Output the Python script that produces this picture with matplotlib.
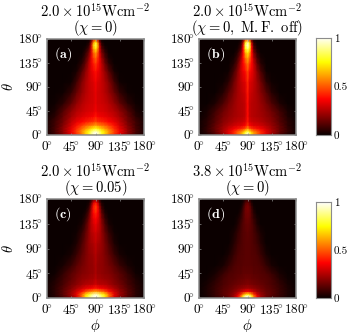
import numpy as np
import matplotlib
matplotlib.use("Agg")
import matplotlib.pyplot as plt

plt.rcParams['font.family'] = ['cmr10', 'DejaVu Serif']
plt.rcParams['axes.formatter.use_mathtext'] = True
plt.rcParams['mathtext.fontset'] = 'cm'

W, H = 348, 332
panel_labels = [r'$\mathbf{(a)}$', r'$\mathbf{(b)}$', r'$\mathbf{(c)}$', r'$\mathbf{(d)}$']
titles = [r'$2.0\times10^{15}\mathrm{Wcm}^{-2}$' + '\n' + r'$(\chi=0)$',
          r'$2.0\times10^{15}\mathrm{Wcm}^{-2}$' + '\n' + r'$(\chi=0,\ \mathrm{M.F.\ off})$',
          r'$2.0\times10^{15}\mathrm{Wcm}^{-2}$' + '\n' + r'$(\chi=0.05)$',
          r'$3.8\times10^{15}\mathrm{Wcm}^{-2}$' + '\n' + r'$(\chi=0)$']
tick_values = [0, 45, 90, 135, 180]
tick_labels = [r'$0\!^{\circ}$', r'$45\!^{\circ}$', r'$90\!^{\circ}$', r'$135\!^{\circ}$', r'$180\!^{\circ}$']
cbar_ticks = [0, 0.5, 1]
cbar_labels = ['0', '0.5', '1']

# offset of phi from 90 degrees, and theta, where intensities were read
phi_off = [0, 4, 8, 12, 18, 25, 35, 45, 60, 75, 90]
theta = [0, 3, 7, 12, 18, 25, 35, 45, 60, 80, 100, 120, 135, 145, 155, 162, 168, 174, 180]

I_a = [
 [0.80,0.78,0.72,0.66,0.58,0.48,0.38,0.28,0.16,0.06,0.01],
 [1.00,0.96,0.88,0.78,0.68,0.56,0.44,0.33,0.19,0.08,0.02],
 [0.94,0.90,0.84,0.76,0.68,0.58,0.46,0.35,0.20,0.09,0.02],
 [0.78,0.74,0.70,0.66,0.60,0.53,0.43,0.33,0.20,0.09,0.02],
 [0.62,0.58,0.56,0.54,0.51,0.46,0.39,0.30,0.18,0.08,0.02],
 [0.48,0.44,0.43,0.42,0.40,0.37,0.33,0.27,0.16,0.08,0.02],
 [0.40,0.36,0.35,0.34,0.33,0.31,0.28,0.23,0.14,0.05,0.01],
 [0.35,0.32,0.31,0.31,0.30,0.28,0.25,0.20,0.11,0.03,0.00],
 [0.33,0.30,0.30,0.29,0.28,0.25,0.20,0.13,0.05,0.01,0.00],
 [0.33,0.30,0.29,0.28,0.25,0.21,0.14,0.06,0.01,0.00,0.00],
 [0.35,0.31,0.30,0.28,0.24,0.18,0.08,0.01,0.00,0.00,0.00],
 [0.39,0.35,0.32,0.27,0.20,0.11,0.02,0.00,0.00,0.00,0.00],
 [0.46,0.40,0.33,0.25,0.14,0.05,0.00,0.00,0.00,0.00,0.00],
 [0.52,0.44,0.33,0.21,0.10,0.02,0.00,0.00,0.00,0.00,0.00],
 [0.60,0.50,0.30,0.16,0.06,0.00,0.00,0.00,0.00,0.00,0.00],
 [0.72,0.58,0.29,0.11,0.03,0.00,0.00,0.00,0.00,0.00,0.00],
 [0.82,0.66,0.27,0.07,0.01,0.00,0.00,0.00,0.00,0.00,0.00],
 [0.76,0.56,0.18,0.03,0.00,0.00,0.00,0.00,0.00,0.00,0.00],
 [0.45,0.30,0.07,0.01,0.00,0.00,0.00,0.00,0.00,0.00,0.00]]

I_b = [
 [0.72,0.66,0.56,0.48,0.41,0.33,0.25,0.18,0.09,0.03,0.00],
 [0.95,0.84,0.70,0.60,0.52,0.42,0.31,0.22,0.11,0.04,0.01],
 [0.82,0.72,0.62,0.56,0.50,0.42,0.32,0.24,0.13,0.06,0.01],
 [0.60,0.50,0.45,0.42,0.39,0.35,0.29,0.23,0.14,0.06,0.01],
 [0.46,0.37,0.34,0.32,0.31,0.29,0.25,0.21,0.13,0.05,0.01],
 [0.40,0.31,0.29,0.28,0.27,0.25,0.22,0.19,0.11,0.05,0.01],
 [0.38,0.28,0.26,0.25,0.24,0.23,0.20,0.17,0.10,0.03,0.00],
 [0.38,0.28,0.26,0.25,0.24,0.22,0.19,0.15,0.08,0.02,0.00],
 [0.38,0.28,0.26,0.25,0.24,0.21,0.16,0.10,0.03,0.00,0.00],
 [0.40,0.30,0.28,0.26,0.23,0.18,0.11,0.04,0.00,0.00,0.00],
 [0.42,0.32,0.30,0.27,0.22,0.15,0.05,0.01,0.00,0.00,0.00],
 [0.47,0.38,0.34,0.29,0.19,0.09,0.01,0.00,0.00,0.00,0.00],
 [0.55,0.45,0.37,0.27,0.13,0.04,0.00,0.00,0.00,0.00,0.00],
 [0.62,0.52,0.38,0.23,0.09,0.02,0.00,0.00,0.00,0.00,0.00],
 [0.72,0.62,0.37,0.17,0.05,0.00,0.00,0.00,0.00,0.00,0.00],
 [0.86,0.74,0.36,0.11,0.02,0.00,0.00,0.00,0.00,0.00,0.00],
 [0.96,0.82,0.34,0.08,0.01,0.00,0.00,0.00,0.00,0.00,0.00],
 [0.90,0.72,0.24,0.04,0.00,0.00,0.00,0.00,0.00,0.00,0.00],
 [0.55,0.38,0.09,0.01,0.00,0.00,0.00,0.00,0.00,0.00,0.00]]

I_c = [
 [0.80,0.78,0.72,0.66,0.54,0.38,0.24,0.16,0.08,0.02,0.00],
 [1.00,0.97,0.92,0.84,0.72,0.52,0.31,0.20,0.10,0.04,0.01],
 [0.94,0.90,0.84,0.78,0.68,0.52,0.33,0.22,0.12,0.05,0.01],
 [0.62,0.60,0.57,0.54,0.48,0.39,0.29,0.21,0.12,0.05,0.01],
 [0.40,0.38,0.36,0.35,0.33,0.29,0.24,0.18,0.11,0.05,0.01],
 [0.30,0.27,0.26,0.26,0.25,0.23,0.19,0.16,0.09,0.04,0.01],
 [0.26,0.23,0.23,0.22,0.21,0.20,0.17,0.13,0.08,0.03,0.00],
 [0.24,0.21,0.21,0.20,0.19,0.18,0.15,0.12,0.06,0.01,0.00],
 [0.24,0.21,0.20,0.20,0.18,0.16,0.12,0.07,0.02,0.00,0.00],
 [0.25,0.22,0.21,0.20,0.17,0.13,0.07,0.02,0.00,0.00,0.00],
 [0.27,0.24,0.23,0.21,0.16,0.10,0.03,0.00,0.00,0.00,0.00],
 [0.30,0.27,0.25,0.20,0.13,0.06,0.01,0.00,0.00,0.00,0.00],
 [0.34,0.30,0.26,0.19,0.09,0.02,0.00,0.00,0.00,0.00,0.00],
 [0.37,0.33,0.26,0.16,0.06,0.01,0.00,0.00,0.00,0.00,0.00],
 [0.42,0.37,0.25,0.12,0.03,0.00,0.00,0.00,0.00,0.00,0.00],
 [0.46,0.39,0.23,0.08,0.01,0.00,0.00,0.00,0.00,0.00,0.00],
 [0.46,0.38,0.19,0.05,0.00,0.00,0.00,0.00,0.00,0.00,0.00],
 [0.38,0.29,0.11,0.02,0.00,0.00,0.00,0.00,0.00,0.00,0.00],
 [0.18,0.13,0.04,0.00,0.00,0.00,0.00,0.00,0.00,0.00,0.00]]

I_d = [
 [0.74,0.70,0.60,0.46,0.30,0.20,0.13,0.09,0.05,0.01,0.00],
 [1.00,0.94,0.78,0.56,0.35,0.22,0.14,0.10,0.06,0.02,0.00],
 [0.74,0.68,0.58,0.44,0.30,0.21,0.15,0.12,0.07,0.03,0.00],
 [0.36,0.34,0.31,0.27,0.22,0.18,0.14,0.12,0.07,0.03,0.00],
 [0.23,0.22,0.21,0.20,0.18,0.16,0.13,0.11,0.07,0.03,0.00],
 [0.18,0.17,0.17,0.16,0.15,0.14,0.12,0.10,0.06,0.02,0.00],
 [0.15,0.15,0.14,0.14,0.13,0.12,0.11,0.09,0.04,0.01,0.00],
 [0.13,0.13,0.13,0.12,0.12,0.11,0.10,0.07,0.02,0.00,0.00],
 [0.12,0.12,0.12,0.11,0.11,0.10,0.06,0.02,0.00,0.00,0.00],
 [0.12,0.12,0.11,0.11,0.10,0.07,0.02,0.00,0.00,0.00,0.00],
 [0.12,0.12,0.11,0.10,0.08,0.04,0.00,0.00,0.00,0.00,0.00],
 [0.13,0.12,0.11,0.09,0.06,0.02,0.00,0.00,0.00,0.00,0.00],
 [0.14,0.13,0.11,0.08,0.03,0.00,0.00,0.00,0.00,0.00,0.00],
 [0.15,0.14,0.10,0.06,0.02,0.00,0.00,0.00,0.00,0.00,0.00],
 [0.16,0.15,0.09,0.04,0.00,0.00,0.00,0.00,0.00,0.00,0.00],
 [0.17,0.15,0.08,0.02,0.00,0.00,0.00,0.00,0.00,0.00,0.00],
 [0.17,0.14,0.06,0.01,0.00,0.00,0.00,0.00,0.00,0.00,0.00],
 [0.14,0.10,0.03,0.00,0.00,0.00,0.00,0.00,0.00,0.00,0.00],
 [0.06,0.04,0.01,0.00,0.00,0.00,0.00,0.00,0.00,0.00,0.00]]

panels = [I_a, I_b, I_c, I_d]

fig = plt.figure(figsize=(W/100, H/100), dpi=100)

def box(x0, y0, x1, y1):
    return [x0/W, 1-y1/H, (x1-x0)/W, (y1-y0)/H]

rects = [(47, 39, 144, 135), (199, 39, 296, 135), (47, 199, 144, 298), (199, 199, 296, 298)]
grey = '#8c8c8c'
off = np.array(phi_off, float)
phi_full = np.concatenate([90 - off[::-1], 90 + off[1:]])

for i, (r, data) in enumerate(zip(rects, panels)):
    ax = fig.add_axes(box(*r))
    d = np.array(data)
    z = np.hstack([d[:, ::-1], d[:, 1:]])
    ax.pcolormesh(phi_full, theta, z, cmap='hot', vmin=0, vmax=1, shading='gouraud', rasterized=True)
    ax.set_xlim(0, 180); ax.set_ylim(0, 180)
    ax.set_xticks(tick_values); ax.set_yticks(tick_values)
    ax.set_xticklabels(tick_labels, fontsize=9.5); ax.set_yticklabels(tick_labels, fontsize=9.5)
    ax.tick_params(axis='x', length=1.5, width=0.5, color=grey, pad=3.5, top=True, direction='in')
    ax.tick_params(axis='y', length=1.5, width=0.5, color=grey, pad=3, right=True, direction='in')
    for s in ax.spines.values():
        s.set_color(grey); s.set_linewidth(1.1)
    ax.text(0.07, 0.94, panel_labels[i], transform=ax.transAxes, color='white',
            fontsize=10, va='top', ha='left')
    ax.set_title(titles[i], fontsize=10.5, pad=5, linespacing=0.9)
    if i % 2 == 0:
        ax.set_ylabel(r'$\theta$', fontsize=10.5)
        ax.yaxis.set_label_coords(-0.32, 0.5)
    if i >= 2:
        ax.set_xlabel(r'$\phi$', fontsize=10.5)
        ax.xaxis.set_label_coords(0.5, -0.19)

grad = np.linspace(0, 1, 256)[:, None]
for r in [(316, 38, 331, 135), (316, 202, 331, 298)]:
    cax = fig.add_axes(box(*r))
    cax.imshow(grad, origin='lower', aspect='auto', cmap='hot', extent=[0, 1, 0, 1], vmin=0, vmax=1)
    cax.set_xticks([])
    cax.yaxis.tick_right()
    cax.set_yticks(cbar_ticks); cax.set_yticklabels(cbar_labels, fontsize=8)
    cax.tick_params(length=0, pad=2)
    for s in cax.spines.values():
        s.set_color(grey); s.set_linewidth(0.8)

fig.savefig('out.png', dpi=100)
